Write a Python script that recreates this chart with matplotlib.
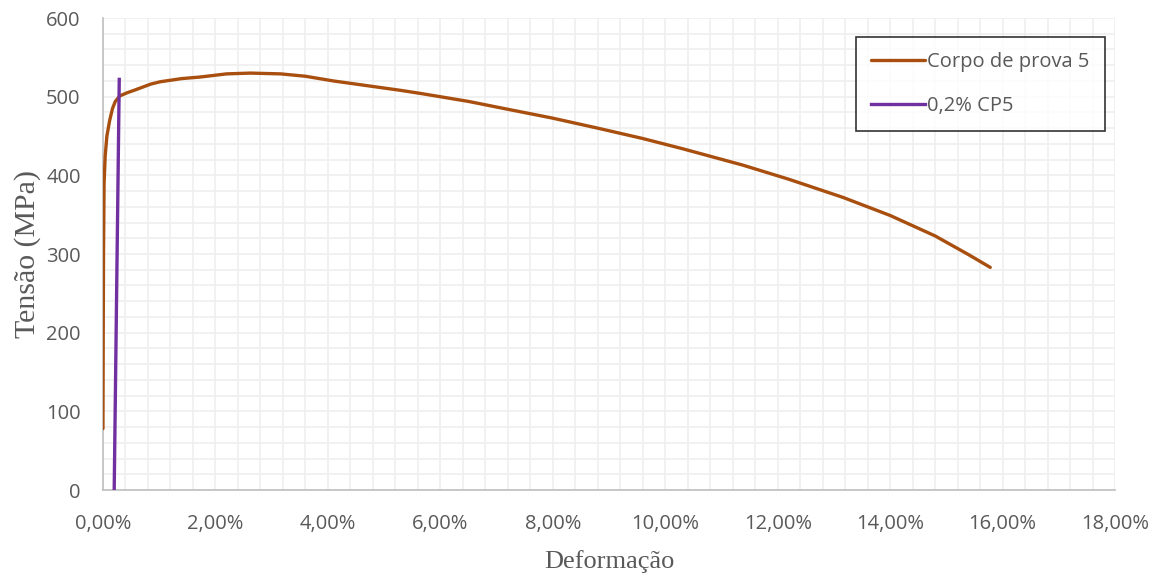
import matplotlib.pyplot as plt
from matplotlib.ticker import MultipleLocator, FuncFormatter

# Corpo de prova 5 - strain (%) and stress (MPa)
strain_cp5 = [0.00, 0.005, 0.01, 0.02, 0.04, 0.07, 0.12, 0.17, 0.22, 0.30, 0.43,
              0.55, 0.70, 0.85, 1.02, 1.40, 1.73, 2.20, 2.62, 3.16, 3.60, 4.10,
              4.70, 5.30, 5.66, 6.50, 7.20, 7.98, 8.80, 9.59, 10.30, 11.38,
              12.20, 13.16, 14.00, 14.80, 15.40, 15.78]
stress_cp5 = [78, 200, 300, 390, 425, 450, 470, 485, 494, 501, 505,
              508, 512, 516, 519, 523, 525, 529, 530, 529, 526, 520,
              514, 508, 504, 494, 484, 473, 460, 447, 434, 413,
              395, 372, 349, 323, 299, 283]

# 0,2% offset line
strain_offset = [0.20, 0.29]
stress_offset = [0, 522]

fig = plt.figure(figsize=(11.62, 5.76), dpi=100)
ax = fig.add_axes([0.0886, 0.1493, 0.871, 0.8194])

ax.plot(strain_cp5, stress_cp5, color='#A84F10', lw=2.4, label='Corpo de prova 5',
        solid_capstyle='round', solid_joinstyle='round', zorder=3)
ax.plot(strain_offset, stress_offset, color='#7030A0', lw=2.4, label='0,2% CP5', zorder=4)

ax.set_xlim(0, 18)
ax.set_ylim(0, 600)
ax.xaxis.set_major_locator(MultipleLocator(2))
ax.xaxis.set_minor_locator(MultipleLocator(0.4))
ax.yaxis.set_major_locator(MultipleLocator(100))
ax.yaxis.set_minor_locator(MultipleLocator(20))
ax.xaxis.set_major_formatter(FuncFormatter(lambda v, p: f"{v:.2f}%".replace('.', ',')))

ax.grid(which='both', color='#EFEFEF', lw=1.2, zorder=0)
ax.set_axisbelow(True)
ax.tick_params(which='both', length=0)
ax.tick_params(labelsize=14.5, labelcolor='#595959')
ax.tick_params(axis='x', pad=17)
ax.tick_params(axis='y', pad=16)
for lbl in ax.get_xticklabels() + ax.get_yticklabels():
    lbl.set_family('Open Sans')

for s in ['top', 'right']:
    ax.spines[s].set_visible(False)
for s in ['left', 'bottom']:
    ax.spines[s].set_color('#BFBFBF')
    ax.spines[s].set_linewidth(1.2)

ax.set_xlabel('Deformação', family='Liberation Serif', fontsize=19, color='#595959', labelpad=12)
ax.set_ylabel('Tensão (MPa)', family='Liberation Serif', fontsize=21.5, color='#595959', labelpad=4)

leg = ax.legend(loc='upper right', bbox_to_anchor=(0.990, 0.960), prop={'family': 'Open Sans', 'size': 14.5},
                frameon=True, fancybox=False, edgecolor='black', handlelength=2.7,
                handletextpad=0.1, labelspacing=1.2, borderpad=0.75, borderaxespad=0)
leg.get_frame().set_linewidth(1.2)
for t in leg.get_texts():
    t.set_color('#595959')

fig.savefig('out.png', dpi=100)
